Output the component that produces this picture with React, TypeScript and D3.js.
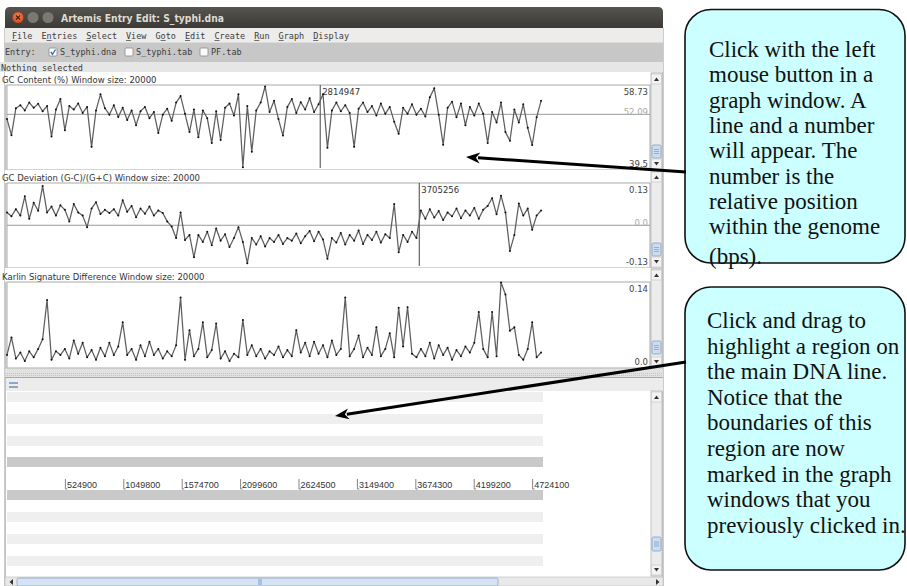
import * as d3 from "d3";

// window title + menus
const windowTitle = "Artemis Entry Edit: S_typhi.dna";
const menuItems = ["File", "Entries", "Select", "View", "Goto", "Edit", "Create", "Run", "Graph", "Display"];
const menuMnemonic = [0, 1, 0, 0, 1, 0, 0, 0, 0, 0];
const entryNames = ["S_typhi.dna", "S_typhi.tab", "PF.tab"];
const entryChecked = [true, false, false];

// graph panels
const panelTitles = [
  "GC Content (%)  Window size: 20000",
  "GC Deviation (G-C)/(G+C)  Window size: 20000",
  "Karlin Signature Difference  Window size: 20000",
];
const panelMax = [58.73, 0.13, 0.14];
const panelMin = [39.5, -0.13, 0.0];
const panelMean = [52.09, 0.0, null];
const panelMaxLabel = ["58.73", "0.13", "0.14"];
const panelMeanLabel = ["52.09", "0.0", ""];
const panelMinLabel = ["39.5", "-0.13", "0.0"];
const panelMarker = [2814947, 3705256, null];

// one value every 40 kb along the genome
const windowStep = 40000;

const gcContent = [
  51.0, 47.3, 53.5, 54.2, 53.0, 54.8, 53.6, 54.5, 52.8, 54.0,
  47.0, 53.2, 55.6, 48.4, 54.0, 53.2, 54.6, 52.4, 53.8, 44.6,
  53.0, 56.7, 53.5, 52.0, 54.2, 51.5, 53.6, 50.8, 53.0, 49.6,
  52.8, 53.8, 51.2, 52.6, 47.8, 52.0, 53.4, 50.6, 54.8, 56.3,
  52.2, 48.0, 53.2, 46.8, 53.0, 51.2, 45.5, 52.8, 46.2, 53.6,
  54.6, 51.8, 56.7, 39.9, 54.0, 43.5, 53.0, 54.8, 58.5, 52.6,
  55.2, 51.0, 47.2, 53.8, 55.6, 52.4, 54.9, 53.2, 55.8, 52.6,
  54.4, 56.7, 44.4, 53.0, 54.8, 52.8, 54.2, 52.4, 44.6, 53.4,
  54.8, 52.6, 54.0, 51.8, 54.6, 52.2, 53.8, 50.4, 47.6, 53.6,
  52.2, 54.4, 52.0, 53.4, 51.6, 56.0, 58.1, 52.0, 45.1, 53.6,
  55.0, 51.4, 54.6, 49.6, 53.8, 51.8, 54.6, 52.2, 45.5, 52.6,
  50.2, 54.8, 48.0, 46.0, 53.2, 50.2, 54.4, 49.0, 45.0, 51.4,
  55.2,
];

const gcDeviation = [
  0.04, 0.028, 0.05, 0.03, 0.09, 0.02, 0.07, 0.045, 0.122, 0.04,
  0.058, 0.03, 0.062, 0.048, 0.012, 0.066, 0.04, 0.03, -0.006, 0.052,
  0.072, 0.035, 0.048, 0.038, 0.05, 0.03, 0.078, 0.042, 0.06, 0.025,
  0.052, 0.036, 0.058, 0.03, 0.046, 0.038, 0.012, -0.004, -0.04, 0.04,
  -0.046, -0.03, -0.1, -0.03, -0.052, -0.02, -0.062, -0.01, -0.048, -0.028,
  -0.068, -0.04, -0.006, -0.052, -0.118, -0.04, -0.06, -0.034, -0.066, -0.04,
  -0.052, -0.03, -0.058, -0.04, -0.048, -0.026, -0.056, -0.034, -0.018, -0.05,
  -0.02, -0.044, -0.104, -0.04, -0.054, -0.024, -0.06, -0.03, -0.048, -0.016,
  -0.058, -0.03, -0.046, -0.02, -0.054, -0.028, -0.04, 0.066, -0.084, -0.03,
  -0.052, -0.02, -0.04, 0.046, 0.02, 0.05, 0.024, 0.044, 0.016, 0.04,
  0.028, 0.052, 0.022, 0.046, 0.03, 0.054, 0.02, 0.048, 0.06, 0.084,
  0.034, 0.092, 0.04, -0.08, -0.03, 0.068, 0.03, 0.052, -0.014, 0.03,
  0.046,
];

const karlinSignature = [
  0.02, 0.049, 0.014, 0.024, 0.01, 0.026, 0.016, 0.03, 0.046, 0.111,
  0.012, 0.026, 0.02, 0.03, 0.014, 0.044, 0.022, 0.04, 0.016, 0.028,
  0.012, 0.032, 0.018, 0.04, 0.02, 0.034, 0.074, 0.02, 0.03, 0.012,
  0.036, 0.018, 0.042, 0.02, 0.03, 0.014, 0.026, 0.018, 0.036, 0.115,
  0.012, 0.061, 0.018, 0.03, 0.074, 0.016, 0.028, 0.072, 0.014, 0.026,
  0.01, 0.022, 0.016, 0.078, 0.02, 0.036, 0.018, 0.03, 0.014, 0.026,
  0.02, 0.034, 0.016, 0.028, 0.018, 0.061, 0.024, 0.04, 0.018, 0.042,
  0.022, 0.036, 0.016, 0.044, 0.02, 0.03, 0.115, 0.018, 0.03, 0.052,
  0.016, 0.032, 0.02, 0.066, 0.018, 0.03, 0.056, 0.016, 0.098, 0.034,
  0.099, 0.022, 0.016, 0.03, 0.018, 0.04, 0.014, 0.036, 0.02, 0.032,
  0.012, 0.028, 0.018, 0.034, 0.024, 0.04, 0.091, 0.03, 0.016, 0.091,
  0.018, 0.14, 0.12, 0.06, 0.066, 0.02, 0.012, 0.03, 0.074, 0.016,
  0.024,
];

const panelData = [gcContent, gcDeviation, karlinSignature];

// feature display base scale
const scaleTicks = [524900, 1049800, 1574700, 2099600, 2624500, 3149400, 3674300, 4199200, 4724100];

const callout1Lines = [
  "Click with the left",
  "mouse button in a",
  "graph window. A",
  "line and a number",
  "will appear. The",
  "number is the",
  "relative position",
  "within the genome",
  "(bps).",
];
const callout2Lines = [
  "Click and drag to",
  "highlight a region on",
  "the main DNA line.",
  "Notice that the",
  "boundaries of this",
  "region are now",
  "marked in the graph",
  "windows that you",
  "previously clicked in.",
];

const W = 907;
const H = 586;
const basesOnScreen = 5779000;
const x = d3.scaleLinear().domain([0, basesOnScreen]).range([7, 650]);

const panelTop = [72, 170, 268];
const plotTop = [85, 183, 282];
const plotBottom = [170, 268, 368];
const plotRight = 650;

const sans = "DejaVu Sans";
const mono = "DejaVu Sans Mono";

function ScrollBar({ top, bottom, thumbTop, thumbH }) {
  const x0 = 651;
  const w = 11;
  return (
    <g>
      <rect x={x0} y={top} width={w} height={bottom - top} fill="#ececec" stroke="#b8b8b8" strokeWidth={0.8} />
      <rect x={x0 + 0.5} y={top + 1} width={w - 1} height={10} fill="#f3f3f3" stroke="#c4c4c4" strokeWidth={0.6} />
      <path d={`M${x0 + 3},${top + 8} L${x0 + 8},${top + 8} L${x0 + 5.5},${top + 4.5} Z`} fill="#333" />
      <rect x={x0 + 1} y={thumbTop} width={w - 2} height={thumbH} rx={1.5} fill="#cddcef" stroke="#7f9fc8" strokeWidth={0.8} />
      {[-2, 0, 2].map((d) => (
        <line key={d} x1={x0 + 3} x2={x0 + 8} y1={thumbTop + thumbH / 2 + d} y2={thumbTop + thumbH / 2 + d} stroke="#6f8fb8" strokeWidth={0.6} />
      ))}
      <rect x={x0 + 0.5} y={bottom - 11} width={w - 1} height={10} fill="#f3f3f3" stroke="#c4c4c4" strokeWidth={0.6} />
      <path d={`M${x0 + 3},${bottom - 8} L${x0 + 8},${bottom - 8} L${x0 + 5.5},${bottom - 4.5} Z`} fill="#333" />
    </g>
  );
}

function GraphPanel({ i }) {
  const data = panelData[i];
  const y = d3.scaleLinear().domain([panelMin[i], panelMax[i]]).range([plotBottom[i] - 1, plotTop[i] + 0.5]);
  const line = d3
    .line<number>()
    .x((_, k) => x(k * windowStep))
    .y((d) => y(d));
  const mean = panelMean[i];
  const marker = panelMarker[i];
  return (
    <g>
      <rect x={5} y={panelTop[i]} width={646} height={plotTop[i] - panelTop[i]} fill="#ffffff" />
      <text x={2} y={plotTop[i] - 2.5} fontFamily={sans} fontSize={8.5} fill="#333">
        {panelTitles[i]}
      </text>
      <rect x={7} y={plotTop[i]} width={plotRight - 7} height={plotBottom[i] - plotTop[i]} fill="#ffffff" stroke="#a9a9a9" strokeWidth={1} />
      {mean !== null && (
        <line x1={7} x2={plotRight} y1={y(mean)} y2={y(mean)} stroke="#9a9a9a" strokeWidth={1} />
      )}
      {marker !== null && (
        <g>
          <line x1={x(marker)} x2={x(marker)} y1={plotTop[i]} y2={plotBottom[i] - 2} stroke="#444" strokeWidth={1} />
          <text x={x(marker) + 2} y={plotTop[i] + 9.5} fontFamily={sans} fontSize={8.5} fill="#333">
            {String(marker)}
          </text>
        </g>
      )}
      <path d={line(data) || ""} fill="none" stroke="#5e5e5e" strokeWidth={1.25} strokeLinejoin="round" />
      {data.map((d, k) => (
        <circle key={k} cx={x(k * windowStep)} cy={y(d)} r={1} fill="#111" />
      ))}
      <text x={648} y={plotTop[i] + 9.5} textAnchor="end" fontFamily={sans} fontSize={8.5} fill="#444">
        {panelMaxLabel[i]}
      </text>
      {mean !== null && (
        <text x={648} y={y(mean) + 0.5} textAnchor="end" fontFamily={sans} fontSize={8.5} fill="#aaaaaa">
          {panelMeanLabel[i]}
        </text>
      )}
      <text x={648} y={plotBottom[i] - 3.5} textAnchor="end" fontFamily={sans} fontSize={8.5} fill="#444">
        {panelMinLabel[i]}
      </text>
      <ScrollBar top={panelTop[i] + 1} bottom={plotBottom[i]} thumbTop={panelTop[i] + 73} thumbH={13} />
    </g>
  );
}

function Arrow({ x1, y1, x2, y2 }) {
  const a = Math.atan2(y2 - y1, x2 - x1);
  const len = 14;
  const hw = 5.5;
  const bx = x2 - len * Math.cos(a);
  const by = y2 - len * Math.sin(a);
  const px = -Math.sin(a) * hw;
  const py = Math.cos(a) * hw;
  return (
    <g>
      <line x1={x1} y1={y1} x2={bx + 2 * Math.cos(a)} y2={by + 2 * Math.sin(a)} stroke="#000" strokeWidth={3} />
      <path d={`M${x2},${y2} L${bx + px},${by + py} L${bx + 4 * Math.cos(a)},${by + 4 * Math.sin(a)} L${bx - px},${by - py} Z`} fill="#000" />
    </g>
  );
}

function Callout({ x0, y0, x1, y1, lines, textX, firstBaseline, step, lastExtra }) {
  return (
    <g>
      <rect x={x0} y={y0} width={x1 - x0} height={y1 - y0} rx={26} ry={26} fill="#ccffff" stroke="#111" strokeWidth={1.6} />
      {lines.map((t, k) => (
        <text
          key={k}
          x={textX}
          y={firstBaseline + k * step + (k === lines.length - 1 ? lastExtra : 0)}
          fontFamily="Liberation Serif"
          fontSize={23}
          fill="#111"
        >
          {t}
        </text>
      ))}
    </g>
  );
}

export default function App() {
  // menu x positions from item widths
  const charW = 5.1;
  let mx = 12;
  const menuX = menuItems.map((m) => {
    const p = mx;
    mx += m.length * charW + 9.1;
    return p;
  });

  const stripeLight = "#efefef";
  const stripeDark = "#c9c9c9";
  const forwardRows = [392, 414, 436];
  const reverseRows = [512, 534, 556];

  return (
    <svg width={W} height={H} style={{ position: "absolute", left: 0, top: 0, background: "#fff" }}>
      <rect x={0} y={0} width={W} height={H} fill="#ffffff" />

      {/* window frame */}
      <rect x={5} y={28} width={658} height={558} fill="#ededed" stroke="#9a9a9a" strokeWidth={1} />

      {/* title bar */}
      <defs>
        <linearGradient id="tb" x1="0" y1="0" x2="0" y2="1">
          <stop offset="0" stopColor="#55544f" />
          <stop offset="1" stopColor="#3b3a36" />
        </linearGradient>
        <radialGradient id="closeG" cx="0.5" cy="0.4" r="0.6">
          <stop offset="0" stopColor="#f58b5f" />
          <stop offset="1" stopColor="#d8461b" />
        </radialGradient>
      </defs>
      <path d="M5,28 L5,12 Q5,7 10,7 L658,7 Q663,7 663,12 L663,28 Z" fill="url(#tb)" />
      <circle cx={18} cy={17.5} r={5.5} fill="url(#closeG)" />
      <path d="M16,15.5 L20,19.5 M20,15.5 L16,19.5" stroke="#4a1a0a" strokeWidth={1.1} />
      <circle cx={33} cy={17.5} r={5.5} fill="#7a7972" />
      <circle cx={48} cy={17.5} r={5.5} fill="#7a7972" />
      <text x={61} y={21.5} fontFamily={sans} fontWeight="bold" fontSize={10.5} fill="#dfdbd2" textLength={163} lengthAdjust="spacingAndGlyphs">
        {windowTitle}
      </text>

      {/* menu bar */}
      <rect x={5} y={28} width={658} height={14} fill="#edeceb" />
      {menuItems.map((m, k) => (
        <g key={m}>
          <text x={menuX[k]} y={38.5} fontFamily={mono} fontSize={8.5} fill="#3c3c3c">
            {m}
          </text>
          <line x1={menuX[k] + menuMnemonic[k] * charW} x2={menuX[k] + (menuMnemonic[k] + 1) * charW} y1={40.5} y2={40.5} stroke="#3c3c3c" strokeWidth={0.7} />
        </g>
      ))}

      {/* entry bar */}
      <rect x={5} y={42} width={658} height={20} fill="#c7c7c7" />
      <line x1={5} x2={663} y1={42.5} y2={42.5} stroke="#dcdcdc" />
      <text x={5} y={55} fontFamily={mono} fontSize={8.5} fill="#3c3c3c">
        Entry:
      </text>
      {entryNames.map((n, k) => {
        const bx = [49, 125, 200][k];
        return (
          <g key={n}>
            <rect x={bx} y={48} width={8} height={8} fill="#fafafa" stroke="#8c8c8c" strokeWidth={0.8} rx={1} />
            {entryChecked[k] && <path d={`M${bx + 1.8},${52} L${bx + 3.5},${54.3} L${bx + 6.5},${49.5}`} fill="none" stroke="#3d6fb6" strokeWidth={1.4} />}
            <text x={bx + 11} y={55} fontFamily={mono} fontSize={8.5} fill="#3c3c3c">
              {n}
            </text>
          </g>
        );
      })}

      {/* status line */}
      <rect x={0} y={62} width={663} height={10} fill="#e6e6e6" />
      <text x={1} y={70.5} fontFamily={mono} fontSize={8.5} fill="#3c3c3c">
        Nothing selected
      </text>

      {[0, 1, 2].map((i) => (
        <GraphPanel key={i} i={i} />
      ))}

      {/* splitter */}
      <rect x={5} y={369} width={658} height={9} fill="#e2e2e2" />
      <line x1={5} x2={663} y1={373.5} y2={373.5} stroke="#c4c4c4" strokeDasharray="1 1" />
      <line x1={5} x2={663} y1={375.5} y2={375.5} stroke="#c4c4c4" strokeDasharray="1 1" />
      <line x1={5} x2={663} y1={377.5} y2={377.5} stroke="#a8a8a8" />

      {/* feature display */}
      <rect x={6} y={378} width={657} height={13} fill="#ececec" />
      <rect x={9} y={382} width={9} height={2} fill="#8aa6cc" />
      <rect x={9} y={386} width={9} height={2} fill="#8aa6cc" />
      <rect x={6} y={391} width={645} height={186} fill="#ffffff" />
      {forwardRows.map((r) => (
        <rect key={r} x={7} y={r} width={536} height={10} fill={stripeLight} />
      ))}
      <rect x={7} y={457} width={536} height={10} fill={stripeDark} />
      {scaleTicks.map((t) => (
        <g key={t}>
          <line x1={x(t)} x2={x(t)} y1={479} y2={489} stroke="#666" strokeWidth={0.8} />
          <line x1={x(t)} x2={x(t) + 2} y1={489} y2={489} stroke="#666" strokeWidth={0.8} />
          <text x={x(t) + 1.5} y={488} fontFamily="Liberation Sans" fontSize={9} fill="#333">
            {String(t)}
          </text>
        </g>
      ))}
      <rect x={7} y={490} width={536} height={10} fill={stripeDark} />
      {reverseRows.map((r) => (
        <rect key={r} x={7} y={r} width={536} height={10} fill={stripeLight} />
      ))}
      <ScrollBar top={391} bottom={576} thumbTop={537} thumbH={14} />

      {/* horizontal scrollbar */}
      <rect x={5} y={577} width={658} height={9} fill="#e9e9e9" stroke="#b8b8b8" strokeWidth={0.6} />
      <path d="M13,579 L13,585 L9.5,582 Z" fill="#333" />
      <rect x={17} y={578} width={481} height={8} rx={1.5} fill="#d6e3f2" stroke="#86a4ca" strokeWidth={0.8} />
      <line x1={259} x2={259} y1={579} y2={585} stroke="#7f9fc8" />
      <line x1={261} x2={261} y1={579} y2={585} stroke="#7f9fc8" />
      <path d="M656,579 L656,585 L659.5,582 Z" fill="#333" />

      {/* annotations */}
      <Callout x0={685} y0={9.5} x1={905} y1={263} lines={callout1Lines} textX={709} firstBaseline={57} step={25.3} lastExtra={5} />
      <Callout x0={685} y0={287} x1={905} y1={570} lines={callout2Lines} textX={707} firstBaseline={328} step={25.6} lastExtra={0} />
      <Arrow x1={686} y1={172} x2={466} y2={157} />
      <Arrow x1={686} y1={362} x2={335} y2={416} />
    </svg>
  );
}
